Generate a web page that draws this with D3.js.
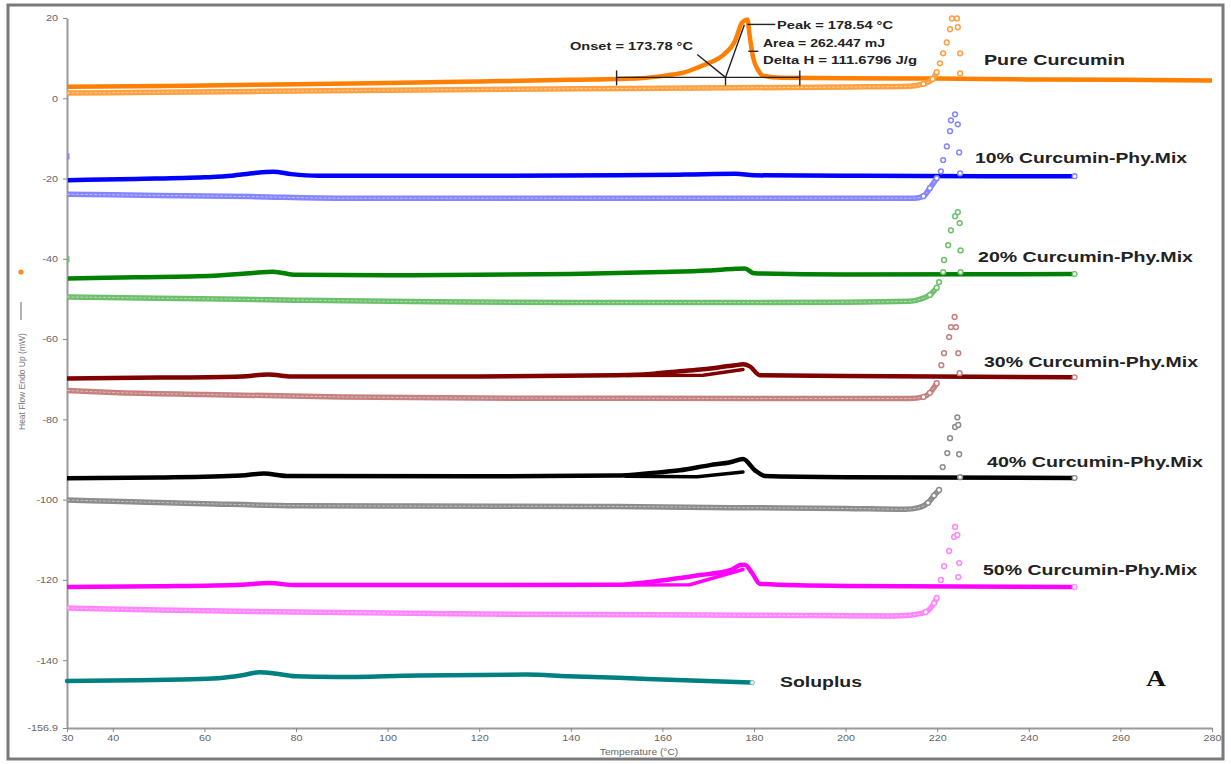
<!DOCTYPE html>
<html>
<head>
<meta charset="utf-8">
<script src="https://cdn.jsdelivr.net/npm/d3@7"></script>
<style>
  html, body { margin: 0; padding: 0; background: #fff; }
  svg { display: block; font-family: "Liberation Sans", Arial, sans-serif; }
</style>
</head>
<body>
<svg id="chart" width="1231" height="764"></svg>
<script>
// ---- axis ticks ----
const xTicks = [30, 40, 60, 80, 100, 120, 140, 160, 180, 200, 220, 240, 260, 280];
const yTicks = [20, 0, -20, -40, -60, -80, -100, -120, -140, -156.9];

// ---- DSC traces: [temperature °C, heat flow mW] ----
// Pure curcumin
const curcuminScan1 = [[30,2.9],[45,3.0],[60,3.2],[80,3.5],[100,3.8],[120,4.2],[140,4.6],[155,5.0],[161,5.7],[165,6.5],[168.2,7.9],[171,9.2],[173.2,10.7],[175.9,14.4],[177.4,18.9],[178.54,19.6],[179.1,15.2],[179.8,10.2],[180.9,7.0],[182,5.6],[186,5.1],[200,5.0],[220,4.9],[240,4.7],[260,4.6],[280,4.4]];
const curcuminScan2 = [[30,1.3],[50,1.5],[80,1.8],[120,2.2],[160,2.5],[200,2.8],[214,3.0],[217,3.6],[219,4.8],[219.9,6.5]];
const curcuminScan2Peak = [[220.6,8.7],[221.3,11.2],[222.1,13.9],[222.8,17.2],[223.2,19.9],[224.3,19.9],[224.5,17.7],[225.0,11.2],[225.0,6.2]];

// 10 % physical mixture
const mix10Start = [[30,-14.5]];
const mix10Scan1 = [[30.2,-20.4],[45,-20.1],[60,-19.7],[66,-19.3],[71,-18.6],[75,-18.3],[79,-18.9],[85,-19.3],[120,-19.3],[150,-19.2],[165,-19.0],[176,-18.8],[180,-19.2],[200,-19.3],[230,-19.4],[250,-19.4]];
const mix10Scan2 = [[30,-23.9],[50,-24.2],[70,-24.5],[90,-24.9],[150,-24.9],[200,-24.9],[215,-24.9],[217,-24.4],[218.4,-22.4],[219.9,-19.9]];
const mix10Scan2Peak = [[220.8,-18.2],[221.3,-15.4],[222.1,-12.0],[222.8,-8.2],[223.0,-5.5],[223.9,-4.0],[224.5,-6.5],[224.8,-13.5],[225.0,-18.7]];

// 20 % physical mixture
const mix20Start = [[30,-40.1]];
const mix20Scan1 = [[30.2,-44.9],[45,-44.6],[62,-44.2],[70,-43.6],[75,-43.2],[80,-44.0],[100,-44.1],[140,-43.8],[160,-43.3],[170,-42.9],[176,-42.5],[178,-42.4],[180,-43.6],[200,-43.9],[250,-43.8]];
const mix20Scan2 = [[30,-49.5],[50,-49.8],[80,-50.3],[110,-50.7],[150,-50.9],[200,-50.8],[214,-50.6],[216.5,-50.0],[218.4,-49.0],[219.9,-47.2]];
const mix20Scan2Peak = [[220.4,-45.8],[221.3,-43.3],[221.5,-40.3],[222.4,-36.6],[223.0,-32.9],[223.9,-29.4],[224.5,-28.4],[224.9,-31.1],[225.1,-37.9],[225.1,-43.3]];

// 30 % physical mixture
const mix30Scan1 = [[30,-69.8],[50,-69.6],[68,-69.3],[74,-68.8],[79,-69.3],[120,-69.3],[150,-69.0],[157.3,-68.7],[163.8,-68.0],[168.9,-67.5],[172.6,-67.0],[175.9,-66.5],[177.6,-66.3],[179.1,-66.8],[181.3,-69.0],[200,-69.2],[250,-69.5]];
const mix30Chord = [[152,-69.1],[168.9,-69.0],[177.6,-67.6]];
const mix30Scan2 = [[30,-72.8],[40,-73.3],[60,-73.8],[90,-74.4],[120,-74.7],[200,-74.8],[214,-74.8],[217,-74.4],[218.4,-73.4],[219.9,-71.0]];
const mix30Scan2Peak = [[220.9,-66.5],[221.5,-63.5],[222.6,-59.5],[223.0,-57.0],[223.8,-54.5],[224.1,-57.0],[224.6,-63.5],[224.9,-68.5]];

// 40 % physical mixture
const mix40Scan1 = [[30,-94.7],[50,-94.5],[68,-94.0],[73,-93.5],[78,-94.1],[120,-94.2],[150,-94.0],[157.3,-93.4],[163.8,-92.7],[170.4,-91.4],[174.8,-90.7],[177.6,-89.9],[180.2,-92.7],[182.4,-94.1],[200,-94.4],[250,-94.6]];
const mix40Chord = [[152,-94.2],[167.6,-94.3],[177.6,-93.1]];
const mix40Scan2 = [[30,-100.1],[40,-100.4],[60,-101.0],[80,-101.5],[100,-101.6],[150,-101.7],[175,-102.0],[200,-102.2],[213,-102.4],[216,-102.0],[218,-100.8],[219.3,-99.0],[220.4,-97.6]];
const mix40Scan2Peak = [[221.2,-91.9],[222.2,-88.4],[222.8,-84.7],[223.9,-81.9],[224.4,-79.5],[224.6,-81.4],[224.8,-88.7],[225.0,-94.4]];

// 50 % physical mixture
const mix50Scan1 = [[30,-121.8],[50,-121.6],[68,-121.2],[74,-120.8],[80,-121.3],[120,-121.3],[150,-121.2],[157.3,-120.5],[168.2,-118.8],[174.8,-117.6],[177,-116.3],[178,-116.2],[179.6,-118.3],[181.3,-121.0],[200,-121.5],[250,-121.8]];
const mix50Chord = [[150,-121.3],[166,-121.2],[177.6,-117.4]];
const mix50Scan2 = [[30,-127.0],[50,-127.5],[80,-128.0],[120,-128.5],[180,-128.8],[210,-129.0],[214,-128.8],[217.5,-128.0],[219.3,-125.8],[219.9,-124.5]];
const mix50Scan2Peak = [[220.8,-120.0],[221.5,-116.6],[222.6,-112.8],[223.7,-109.3],[223.9,-106.8],[224.4,-108.8],[224.8,-115.8],[224.6,-119.3]];

// Soluplus
const soluplusScan = [[30,-145.2],[45.7,-145.0],[55.2,-144.8],[63,-144.5],[68.6,-143.7],[72,-143.0],[75.4,-143.3],[79.8,-144.0],[88.8,-144.2],[106.7,-143.8],[130.3,-143.6],[139.2,-144.0],[150.4,-144.4],[161.6,-144.9],[179.6,-145.6]];

// Curcumin melting analysis
const onsetT = 173.78;
const peakT = 178.54;
const areaMJ = 262.447;
const deltaH = 111.6796;

// ---- drawing ----
const svg = d3.select("#chart");
const x = d3.scaleLinear().domain([30, 280]).range([67, 1212]);
const y = d3.scaleLinear().domain([-156.9, 20]).range([728, 18]);

function stretch(sel, k) {
  sel.each(function () {
    const w = this.getComputedTextLength();
    d3.select(this).attr("textLength", w * k).attr("lengthAdjust", "spacingAndGlyphs");
  });
}

// outer frame
svg.append("rect").attr("x", 8).attr("y", 5).attr("width", 1215).attr("height", 754)
  .attr("fill", "none").attr("stroke", "#7a7a7a").attr("stroke-width", 3);

// axes
const gx = svg.append("g").attr("transform", `translate(0,${y(-156.9)})`)
  .call(d3.axisBottom(x).tickValues(xTicks).tickSize(4).tickSizeOuter(0).tickPadding(3).tickFormat(d => String(d)));
const gy = svg.append("g").attr("transform", `translate(${x(30)},0)`)
  .call(d3.axisLeft(y).tickValues(yTicks).tickSize(4).tickSizeOuter(0).tickPadding(5).tickFormat(d => String(d)));
[gx, gy].forEach(g => {
  g.attr("font-family", null);
  g.select(".domain").attr("stroke", "#9a9a9a").attr("stroke-width", 2);
  g.selectAll(".tick line").attr("stroke", "#8a8a8a").attr("stroke-width", 1);
  g.selectAll(".tick text").attr("fill", "#666").style("font-size", "9px");
  stretch(g.selectAll(".tick text"), 1.2);
});

// axis titles
const xt = svg.append("text").attr("x", 639).attr("y", 755).attr("text-anchor", "middle")
  .style("font-size", "8.5px").attr("fill", "#666").text("Temperature (°C)");
stretch(xt, 1.2);
svg.append("text").attr("transform", "translate(25,430) rotate(-90)")
  .style("font-size", "8.5px").attr("fill", "#777").text("Heat Flow Endo Up (mW)");
svg.append("line").attr("x1", 21).attr("x2", 21).attr("y1", 320).attr("y2", 302)
  .attr("stroke", "#666").attr("stroke-width", 1);
svg.append("circle").attr("cx", 21).attr("cy", 272).attr("r", 2.6).attr("fill", "#ff8c1a");

const line = d3.line().x(d => x(d[0])).y(d => y(d[1]));
const smooth = d3.line().x(d => x(d[0])).y(d => y(d[1])).curve(d3.curveMonotoneX);

const series = [
  { name: "Pure Curcumin", dark: "#ff7f00", light: "#ffa040", scan1: curcuminScan1, start: null, scan2: curcuminScan2, peak: curcuminScan2Peak, chord: null, endMark: false,
    label: [984, 65, 141] },
  { name: "10% Curcumin-Phy.Mix", dark: "#0000ff", light: "#8585ff", scan1: mix10Scan1, start: mix10Start, scan2: mix10Scan2, peak: mix10Scan2Peak, chord: null, endMark: true,
    label: [975, 163, 212] },
  { name: "20% Curcumin-Phy.Mix", dark: "#008000", light: "#6cc06c", scan1: mix20Scan1, start: mix20Start, scan2: mix20Scan2, peak: mix20Scan2Peak, chord: null, endMark: true,
    label: [978, 262, 215] },
  { name: "30% Curcumin-Phy.Mix", dark: "#800000", light: "#c58080", scan1: mix30Scan1, start: null, scan2: mix30Scan2, peak: mix30Scan2Peak, chord: mix30Chord, endMark: true,
    label: [984, 367, 214] },
  { name: "40% Curcumin-Phy.Mix", dark: "#000000", light: "#8c8c8c", scan1: mix40Scan1, start: null, scan2: mix40Scan2, peak: mix40Scan2Peak, chord: mix40Chord, endMark: true,
    label: [987, 467, 216] },
  { name: "50% Curcumin-Phy.Mix", dark: "#ff00ff", light: "#ff85ff", scan1: mix50Scan1, start: null, scan2: mix50Scan2, peak: mix50Scan2Peak, chord: mix50Chord, endMark: true,
    label: [983, 575, 214] }
];

const plot = svg.append("g");

series.forEach(s => {
  // first scan: solid heavy trace
  plot.append("path").attr("d", smooth(s.scan1)).attr("fill", "none")
    .attr("stroke", s.dark).attr("stroke-width", 4.5).attr("stroke-linejoin", "round");
  if (s.chord) {
    plot.append("path").attr("d", line(s.chord)).attr("fill", "none")
      .attr("stroke", s.dark).attr("stroke-width", 3.5).attr("stroke-linecap", "round");
  }
  if (s.start) {
    plot.selectAll(null).data(s.start).enter().append("rect")
      .attr("x", d => x(d[0]) + 0.5).attr("y", d => y(d[1]) - 3).attr("width", 2).attr("height", 6)
      .attr("fill", s.light);
  }
  if (s.endMark) {
    const e = s.scan1[s.scan1.length - 1];
    plot.append("circle").attr("cx", x(e[0])).attr("cy", y(e[1])).attr("r", 2.4)
      .attr("fill", "#fff").attr("stroke", s.light).attr("stroke-width", 1.3);
  }
});

series.forEach(s => {
  // second scan: densely sampled marker band, sparse markers across the fast event
  plot.append("path").attr("d", smooth(s.scan2)).attr("fill", "none")
    .attr("stroke", s.light).attr("stroke-width", 5.5);
  plot.append("path").attr("d", smooth(s.scan2)).attr("fill", "none")
    .attr("stroke", "#fff").attr("stroke-width", 1).attr("stroke-opacity", 0.45)
    .attr("stroke-dasharray", "3 1.5");
  const pts = s.scan2.filter(d => d[0] > 216.5).concat(s.peak);
  plot.selectAll(null).data(pts).enter().append("circle")
    .attr("cx", d => x(d[0])).attr("cy", d => y(d[1])).attr("r", 2.4)
    .attr("fill", "#fff").attr("stroke", s.light).attr("stroke-width", 1.5);
});

// Soluplus trace
plot.append("path").attr("d", smooth(soluplusScan)).attr("fill", "none")
  .attr("stroke", "#008080").attr("stroke-width", 4.5).attr("stroke-linecap", "round");
const se = soluplusScan[soluplusScan.length - 1];
plot.append("circle").attr("cx", x(se[0])).attr("cy", y(se[1])).attr("r", 2.2)
  .attr("fill", "#e8f4f4").attr("stroke", "#7fbfbf").attr("stroke-width", 1);

// ---- melting analysis construction ----
const base = 5.2;
const ann = svg.append("g").attr("stroke", "#222").attr("stroke-width", 1.4).attr("fill", "none");
ann.append("line").attr("x1", x(150)).attr("x2", x(190)).attr("y1", y(base)).attr("y2", y(base));
[150, onsetT, 190].forEach(t => {
  ann.append("line").attr("x1", x(t)).attr("x2", x(t))
    .attr("y1", y(base) - (t === onsetT ? 0 : 7)).attr("y2", y(base) + 8);
});
ann.append("line").attr("x1", x(onsetT)).attr("y1", y(base)).attr("x2", x(177.9)).attr("y2", y(18.3));
ann.append("line").attr("x1", x(167.6)).attr("y1", y(10.9)).attr("x2", x(onsetT)).attr("y2", y(base));
ann.append("line").attr("x1", x(peakT)).attr("y1", y(18.4)).attr("x2", x(peakT) + 28).attr("y2", y(18.4));
ann.append("line").attr("x1", x(peakT) + 1).attr("y1", y(11.7)).attr("x2", x(peakT) + 11).attr("y2", y(11.7));

const annText = svg.append("g").attr("fill", "#222").style("font-size", "11.5px").attr("font-weight", "bold");
const tOnset = annText.append("text").attr("x", 570).attr("y", 50).text(`Onset = ${onsetT.toFixed(2)} °C`);
const tPeak = annText.append("text").attr("x", 777).attr("y", 29).text(`Peak = ${peakT.toFixed(2)} °C`);
const tArea = annText.append("text").attr("x", 763).attr("y", 47).text(`Area = ${areaMJ.toFixed(3)} mJ`);
const tDh = annText.append("text").attr("x", 763).attr("y", 64).text(`Delta H = ${deltaH.toFixed(4)} J/g`);
tOnset.attr("textLength", 123).attr("lengthAdjust", "spacingAndGlyphs");
tPeak.attr("textLength", 116).attr("lengthAdjust", "spacingAndGlyphs");
tArea.attr("textLength", 122).attr("lengthAdjust", "spacingAndGlyphs");
tDh.attr("textLength", 154).attr("lengthAdjust", "spacingAndGlyphs");

// ---- series labels ----
const labels = series.map(s => ({ text: s.name, pos: s.label }))
  .concat([{ text: "Soluplus", pos: [780, 687, 82] }]);
svg.selectAll(null).data(labels).enter().append("text")
  .attr("x", d => d.pos[0]).attr("y", d => d.pos[1])
  .attr("textLength", d => d.pos[2]).attr("lengthAdjust", "spacingAndGlyphs")
  .style("font-size", "15px").attr("font-weight", "bold").attr("fill", "#222")
  .text(d => d.text);

// panel letter
svg.append("text").attr("x", 1146).attr("y", 686)
  .style("font-family", "'Liberation Serif', 'Times New Roman', serif")
  .style("font-size", "24px").attr("font-weight", "bold").attr("fill", "#111")
  .attr("textLength", 20).attr("lengthAdjust", "spacingAndGlyphs").text("A");
</script>
</body>
</html>
